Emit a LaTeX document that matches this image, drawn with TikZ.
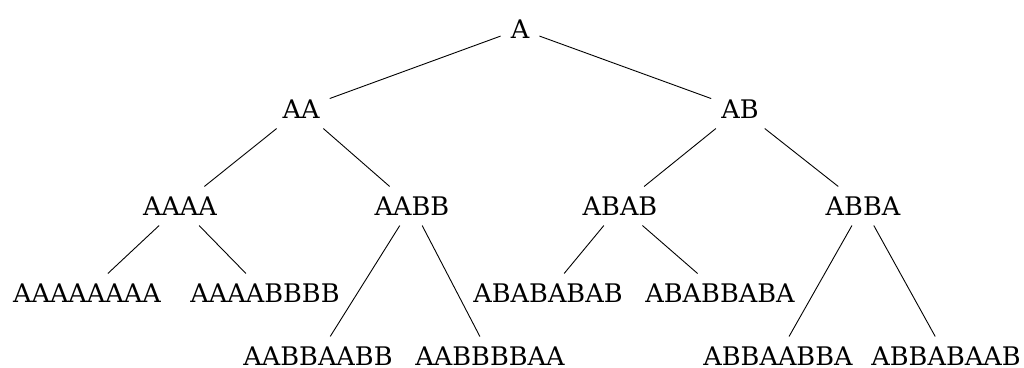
\documentclass[tikz,border=0pt]{standalone}
\usepackage{fontspec}
\setmainfont{DejaVu Serif}
\begin{document}
\begin{tikzpicture}[x=1pt,y=-1pt,
  lbl/.style={inner xsep=10pt,inner ysep=10pt,font=\fontsize{25.6}{28}\selectfont},
  edge/.style={line width=0.9pt}]
\useasboundingbox (0,0) rectangle (1024,367);
\node[lbl] (A) at (520,29) {A};
\node[lbl] (AA) at (301,109) {AA};
\node[lbl] (AB) at (740,109) {AB};
\node[lbl] (AAAA) at (180,206) {AAAA};
\node[lbl] (AABB) at (412,206) {AABB};
\node[lbl] (ABAB) at (620,206) {ABAB};
\node[lbl] (ABBA) at (863,206) {ABBA};
\node[lbl] (A8) at (87,293) {AAAAAAAA};
\node[lbl] (A4B4) at (265,293) {AAAABBBB};
\node[lbl] (ABABABAB) at (548,293) {ABABABAB};
\node[lbl] (ABABBABA) at (720,293) {ABABBABA};
\node[lbl] (AABBAABB) at (318,356) {AABBAABB};
\node[lbl] (AABBBBAA) at (490,356) {AABBBBAA};
\node[lbl] (ABBAABBA) at (778,356) {ABBAABBA};
\node[lbl] (ABBABAAB) at (946,356) {ABBABAAB};
\draw[edge] (A) -- (AA);
\draw[edge] (A) -- (AB);
\draw[edge] (AA) -- (AAAA);
\draw[edge] (AA) -- (AABB);
\draw[edge] (AB) -- (ABAB);
\draw[edge] (AB) -- (ABBA);
\draw[edge] (AAAA) -- (A8);
\draw[edge] (AAAA) -- (A4B4);
\draw[edge] (AABB) -- (AABBAABB);
\draw[edge] (AABB) -- (AABBBBAA);
\draw[edge] (ABAB) -- (ABABABAB);
\draw[edge] (ABAB) -- (ABABBABA);
\draw[edge] (ABBA) -- (ABBAABBA);
\draw[edge] (ABBA) -- (ABBABAAB);
\end{tikzpicture}
\end{document}
